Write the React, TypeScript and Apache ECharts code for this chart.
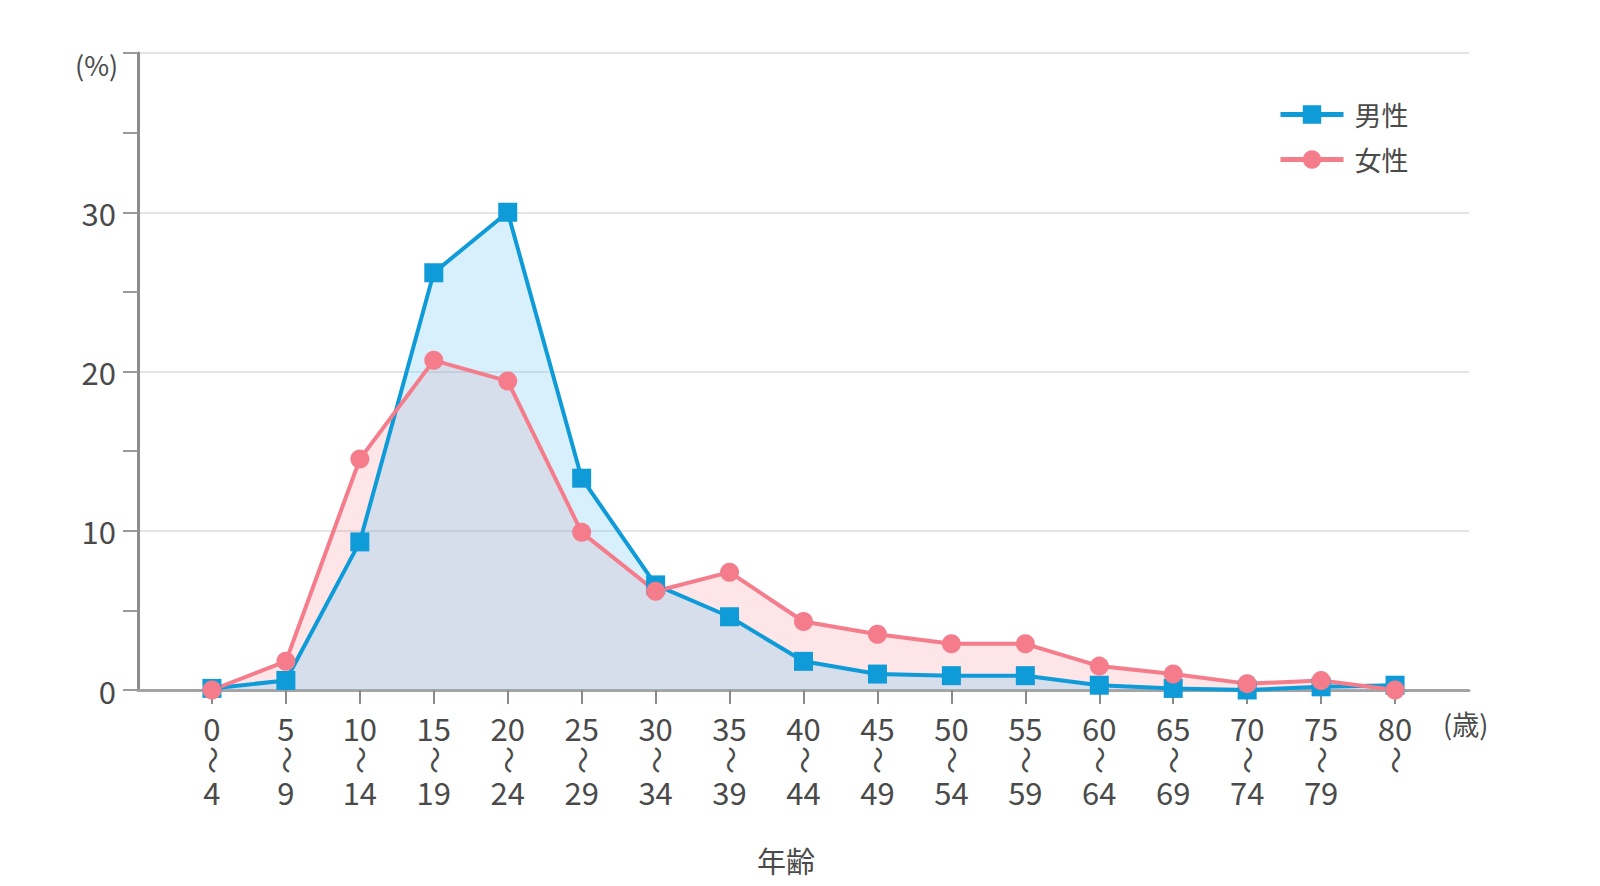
import React, { useEffect, useRef } from "react";
import * as echarts from "echarts";

const ageStarts = ["0", "5", "10", "15", "20", "25", "30", "35", "40", "45", "50", "55", "60", "65", "70", "75", "80"];
const ageEnds = ["4", "9", "14", "19", "24", "29", "34", "39", "44", "49", "54", "59", "64", "69", "74", "79", ""];
const maleValues = [0.1, 0.6, 9.3, 26.2, 30.0, 13.3, 6.6, 4.6, 1.8, 1.0, 0.9, 0.9, 0.3, 0.1, 0.0, 0.2, 0.3];
const femaleValues = [0.0, 1.8, 14.5, 20.7, 19.4, 9.9, 6.2, 7.4, 4.3, 3.5, 2.9, 2.9, 1.5, 1.0, 0.4, 0.6, 0.0];
const seriesNames = ["男性", "女性"];
const yTicks = [0, 10, 20, 30];
const rangeMark = "〜";

const FONT = "'Noto Sans CJK JP', 'Noto Sans', sans-serif";
const BLUE = "#0e9bd8";
const PINK = "#f47c8b";
const TEXT = "#4a4a4a";

export default function App() {
  const ref = useRef<HTMLDivElement>(null);
  useEffect(() => {
    if (!ref.current) return;
    const chart = echarts.init(ref.current, null, { renderer: "svg" });
    const categories = ["", ...ageStarts, ""];
    const pad = (arr: number[]) => ["-", ...arr, "-"];
    const valid = (idx: number) => idx > 0 && idx < categories.length - 1;
    chart.setOption({
      animation: false,
      backgroundColor: "#ffffff",
      textStyle: { fontFamily: FONT },
      grid: { left: 138, right: 131, top: 53, bottom: 196, outerBoundsMode: "none", containLabel: false },
      legend: {
        data: seriesNames,
        orient: "vertical",
        left: 1273,
        top: 96,
        itemWidth: 63,
        itemHeight: 23,
        itemGap: 18,
        lineStyle: { width: 5 },
        textStyle: { fontSize: 27, color: TEXT, fontFamily: FONT, padding: [0, 0, 0, 6] },
      },
      xAxis: [
        {
          type: "category",
          boundaryGap: false,
          data: categories,
          axisLine: { show: true, lineStyle: { color: "#a3a3a3", width: 3 } },
          axisTick: {
            show: true,
            length: 14,
            interval: (idx: number) => valid(idx),
            lineStyle: { color: "#8a8a8a", width: 2 },
          },
          axisLabel: {
            interval: 0,
            margin: 21,
            color: TEXT,
            fontSize: 31,
            lineHeight: 32,
            fontFamily: FONT,
            formatter: (_v: string, idx: number) => {
              if (!valid(idx)) return "";
              const i = idx - 1;
              return ageEnds[i] ? `${ageStarts[i]}\n\n${ageEnds[i]}` : ageStarts[i];
            },
          },
          splitLine: { show: false },
        },
        {
          type: "category",
          boundaryGap: false,
          data: categories,
          position: "bottom",
          axisLine: { show: false },
          axisTick: { show: false },
          splitLine: { show: false },
          axisLabel: {
            interval: 0,
            rotate: 90,
            margin: 56,
            color: TEXT,
            fontSize: 28,
            fontFamily: FONT,
            formatter: (_v: string, idx: number) => (valid(idx) ? rangeMark : ""),
          },
        },
      ],
      yAxis: {
        type: "value",
        min: 0,
        max: 40,
        interval: 10,
        axisLine: { show: true, lineStyle: { color: "#8c8c8c", width: 3 } },
        axisTick: { show: true, length: 15, lineStyle: { color: "#9a9a9a", width: 2 } },
        minorTick: { show: true, splitNumber: 2, length: 15, lineStyle: { color: "#9a9a9a", width: 2 } },
        axisLabel: {
          fontSize: 31,
          color: TEXT,
          margin: 22,
          fontFamily: FONT,
          formatter: (v: number) => (yTicks.includes(v) ? String(v) : ""),
        },
        splitLine: { show: true, lineStyle: { color: "#e4e4e4", width: 2 } },
      },
      series: [
        {
          name: "女性面",
          type: "line",
          data: pad(femaleValues),
          symbol: "none",
          lineStyle: { width: 0, opacity: 0 },
          areaStyle: { color: PINK, opacity: 0.2 },
          silent: true,
        },
        {
          name: seriesNames[0],
          type: "line",
          data: pad(maleValues),
          symbol: "rect",
          symbolSize: 19,
          showAllSymbol: true,
          lineStyle: { color: BLUE, width: 4 },
          itemStyle: { color: BLUE },
          areaStyle: { color: "rgb(125,205,242)", opacity: 0.3 },
        },
        {
          name: seriesNames[1],
          type: "line",
          data: pad(femaleValues),
          symbol: "circle",
          symbolSize: 19,
          showAllSymbol: true,
          lineStyle: { color: PINK, width: 4 },
          itemStyle: { color: PINK },
        },
      ],
      graphic: [
        {
          type: "text",
          left: 75,
          top: 51,
          style: { text: "(%)", fontSize: 27, fill: TEXT, fontFamily: FONT },
        },
        {
          type: "text",
          left: 1443,
          top: 710,
          style: { text: "(歳)", fontSize: 27, fill: TEXT, fontFamily: FONT },
        },
        {
          type: "text",
          x: 786,
          y: 860,
          style: { text: "年齢", fontSize: 29, fill: TEXT, fontFamily: FONT, align: "center", verticalAlign: "middle" },
        },
      ],
    });
    return () => chart.dispose();
  }, []);
  return <div ref={ref} style={{ position: "fixed", left: 0, top: 0, width: 1600, height: 886 }} />;
}
